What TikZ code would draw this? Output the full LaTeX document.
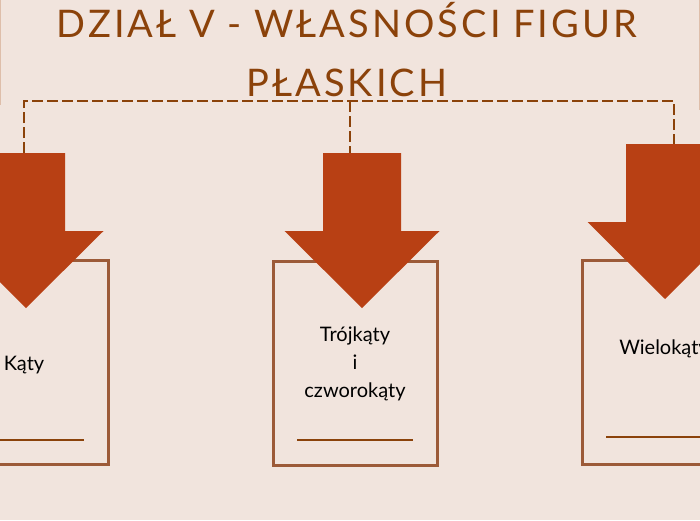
\documentclass[tikz,border=0pt]{standalone}
\usepackage{fontspec}
\setmainfont{Lato}
\newfontfamily\titlefont[LetterSpace=8]{Lato}
\usetikzlibrary{positioning}
\definecolor{pagebg}{RGB}{241,228,221}
\definecolor{titlebrown}{RGB}{139,66,10}
\definecolor{arrowrust}{RGB}{184,64,20}
\definecolor{boxbrown}{RGB}{156,90,56}
\definecolor{framebeige}{RGB}{222,190,170}
\tikzset{
    topic box/.style={rectangle, draw=boxbrown, line width=3pt, minimum width=164pt, minimum height=204pt, inner sep=0pt},
    pics/drop arrow/.style={code={
        \fill[arrowrust] (-39,-155) -- (39,-155) -- (39,-77) -- (77.5,-77) -- (0,0)
            -- (-77.5,-77) -- (-39,-77) -- cycle;
        \coordinate (-tail) at (0,-155);
    }},
    topic label/.style={align=center, font=\fontsize{20}{28}\selectfont, text=black},
    title text/.style={align=center, font=\titlefont\fontsize{38}{59}\selectfont, text=titlebrown},
    link line/.style={draw=titlebrown, line width=1.8pt, dash pattern=on 11pt off 4pt},
    rule line/.style={draw=titlebrown, line width=2pt},
    frame line/.style={draw=framebeige, line width=1pt}
}

\begin{document}
\begin{tikzpicture}[x=1pt, y=-1pt]
\useasboundingbox[fill=pagebg] (0,0) rectangle (700,520);
\clip (0,0) rectangle (700,520);

% Title
\draw[frame line] (0.5,0) -- (0.5,105);
\draw[frame line] (699.5,0) -- (699.5,110);
\node[title text, anchor=base] (title) at (347,96) {DZIAŁ V - WŁASNOŚCI FIGUR\\PŁASKICH};

% Topic boxes
\node[topic box] (boxL) at (26,362) {};
\node[topic box] (boxM) at (355,363.5) {};
\node[topic box] (boxR) at (664,362.5) {};

\node[topic label] (lblL) at ([xshift=-2pt,yshift=-3pt]boxL.center) {Kąty};
\node[topic label] (lblM) at (boxM.center) {Trójkąty\\i\\czworokąty};
\node[topic label] (lblR) at ([yshift=14pt]boxR.center) {Wielokąty};

\draw[rule line] ([xshift=-58pt,yshift=26pt]boxL.south) -- ([xshift=58pt,yshift=26pt]boxL.south);
\draw[rule line] ([xshift=-58pt,yshift=27pt]boxM.south) -- ([xshift=58pt,yshift=27pt]boxM.south);
\draw[rule line] ([xshift=-58pt,yshift=29pt]boxR.south) -- ([xshift=58pt,yshift=29pt]boxR.south);

% Arrows
\pic (arrL) at (26,308) {drop arrow};
\pic (arrM) at (362,308) {drop arrow};
\pic (arrR) at (665,299) {drop arrow};

% Dashed links
\coordinate (linkL) at (24,101);
\coordinate (linkM) at (350,101);
\coordinate (linkR) at (674,101);
\draw[link line] (linkL |- arrL-tail) -- (linkL) -- (linkR) -- (linkR |- arrR-tail);
\draw[link line] (linkM) -- (linkM |- arrM-tail);
\end{tikzpicture}
\end{document}
